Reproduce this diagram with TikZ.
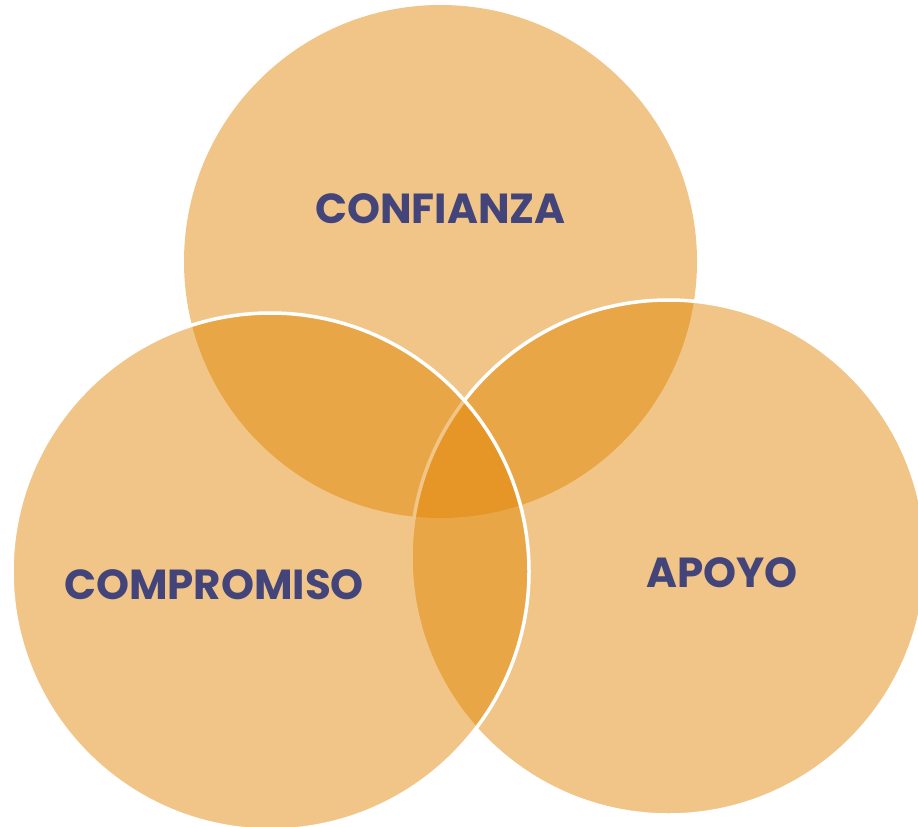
\documentclass[tikz,border=0pt]{standalone}
\usepackage{fontspec}
\setmainfont{Poppins}
\definecolor{vennfill}{RGB}{225,132,0}
\definecolor{labelblue}{RGB}{66,68,122}
\tikzset{
  venn/.style={fill=vennfill,fill opacity=0.47},
  vennedge/.style={venn,draw=white,draw opacity=1,line width=3.5pt},
  lbl/.style={text=labelblue,font=\fontsize{42}{48}\selectfont\bfseries,inner sep=0pt,anchor=center}
}
\begin{document}
\begin{tikzpicture}[x=1pt,y=-1pt]
\useasboundingbox (0,0) rectangle (918,827);
\clip (0,0) rectangle (918,827);
\path[venn] (440.5,261.5) circle[radius=256.5];
\path[vennedge] (668.5,557.5) circle[radius=257.5];
\path[vennedge] (270.5,571.5) circle[radius=258.5];
\node[lbl] (confianza) at (440.5,209) {CONFIANZA};
\node[lbl] (compromiso) at (214,585) {COMPROMISO};
\node[lbl] (apoyo) at (722,573) {APOYO};
\end{tikzpicture}
\end{document}
